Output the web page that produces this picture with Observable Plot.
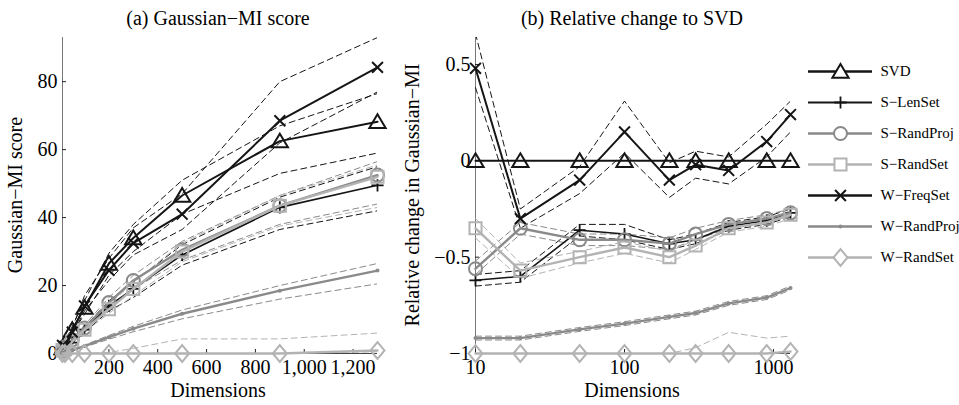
<!DOCTYPE html>
<html><head><meta charset="utf-8">
<script src="https://cdn.jsdelivr.net/npm/d3@7"></script>
<script src="https://cdn.jsdelivr.net/npm/@observablehq/plot@0.6"></script>
<style>
html,body{margin:0;padding:0;background:#fff;}
#wrap{position:relative;width:959px;height:405px;overflow:hidden;font-family:"Liberation Serif","Times New Roman",serif;}
#wrap svg{position:absolute;top:0;}
</style></head><body><div id="wrap"></div>
<script>
// ---------- data ----------
const dims = [10, 20, 50, 100, 200, 300, 500, 900, 1300];
const seriesNames = ["SVD", "S−LenSet", "S−RandProj", "S−RandSet", "W−FreqSet", "W−RandProj", "W−RandSet"];

// (a) Gaussian-MI score
const svdA     = [1.6, 3.0, 7.0, 13.5, 26.5, 34.0, 46.5, 62.5, 68.2];
const svdALo   = [1.3, 2.6, 6.0, 11.5, 23.0, 30.0, 41.0, 53.0, 59.0];
const svdAHi   = [1.9, 3.4, 8.0, 15.5, 29.5, 38.0, 51.0, 67.0, 76.5];
const lenA     = [0.6, 1.2, 3.2, 7.0, 14.0, 19.0, 29.0, 43.0, 49.5];
const lenALo   = [0.5, 1.0, 2.8, 6.2, 12.5, 16.5, 26.0, 36.5, 42.0];
const lenAHi   = [0.7, 1.4, 3.6, 7.8, 15.5, 21.0, 32.0, 46.0, 55.0];
const projA    = [0.7, 1.9, 4.0, 7.5, 15.0, 21.5, 30.5, 43.5, 52.5];
const projALo  = [0.6, 1.7, 3.6, 6.8, 13.5, 19.0, 27.5, 38.0, 44.0];
const projAHi  = [0.8, 2.1, 4.4, 8.3, 16.5, 23.0, 33.0, 46.5, 56.5];
const setA     = [1.0, 1.3, 3.5, 7.0, 13.0, 19.0, 30.0, 43.5, 52.0];
const setALo   = [0.9, 1.1, 3.1, 6.3, 11.8, 17.0, 27.0, 37.5, 43.0];
const setAHi   = [1.1, 1.5, 3.9, 7.8, 14.3, 21.0, 32.5, 46.5, 55.5];
const freqA    = [2.4, 2.1, 6.3, 14.0, 24.5, 32.5, 41.0, 68.5, 84.2];
const freqALo  = [1.9, 1.8, 5.5, 12.5, 21.5, 29.0, 36.5, 62.0, 77.0];
const freqAHi  = [3.0, 2.5, 7.5, 17.0, 28.0, 37.0, 47.0, 80.0, 93.0];
const wprojA   = [0.1, 0.25, 0.9, 2.2, 4.8, 7.3, 11.7, 18.5, 24.4];
const wprojALo = [0.1, 0.2, 0.8, 1.9, 4.2, 6.4, 10.2, 16.0, 20.5];
const wprojAHi = [0.1, 0.3, 1.0, 2.5, 5.3, 8.0, 12.8, 20.0, 26.5];
const wsetA    = [0, 0, 0, 0, 0, 0, 0, 0, 0.9];
const wsetALo  = [0, 0, 0, 0, 0, 0, 0, 0, 0.5];
const wsetAHi  = [0, 0, 0, 0, 0.3, 1.5, 4.3, 4.3, 6.0];

// (b) Relative change to SVD
const svdB     = [0, 0, 0, 0, 0, 0, 0, 0, 0];
const lenB     = [-0.62, -0.60, -0.36, -0.38, -0.43, -0.41, -0.34, -0.31, -0.27];
const lenBLo   = [-0.65, -0.63, -0.39, -0.41, -0.46, -0.43, -0.36, -0.33, -0.29];
const lenBHi   = [-0.59, -0.57, -0.33, -0.33, -0.41, -0.38, -0.32, -0.29, -0.25];
const projB    = [-0.56, -0.35, -0.41, -0.41, -0.43, -0.38, -0.33, -0.30, -0.27];
const projBLo  = [-0.59, -0.38, -0.44, -0.44, -0.46, -0.41, -0.35, -0.32, -0.29];
const projBHi  = [-0.52, -0.32, -0.38, -0.38, -0.40, -0.35, -0.31, -0.28, -0.25];
const setB     = [-0.35, -0.57, -0.50, -0.45, -0.50, -0.44, -0.35, -0.32, -0.28];
const setBLo   = [-0.40, -0.61, -0.53, -0.48, -0.53, -0.46, -0.37, -0.34, -0.30];
const setBHi   = [-0.30, -0.53, -0.47, -0.42, -0.47, -0.41, -0.33, -0.30, -0.26];
const freqB    = [0.48, -0.30, -0.10, 0.15, -0.10, -0.02, -0.05, 0.10, 0.24];
const freqBLo  = [0.38, -0.35, -0.17, 0.04, -0.19, -0.09, -0.12, 0.02, 0.15];
const freqBHi  = [0.66, -0.25, -0.03, 0.31, -0.01, 0.05, 0.02, 0.19, 0.31];
const wprojB   = [-0.92, -0.92, -0.875, -0.845, -0.81, -0.79, -0.74, -0.71, -0.66];
const wprojBLo = [-0.93, -0.93, -0.885, -0.855, -0.82, -0.80, -0.75, -0.72, -0.67];
const wprojBHi = [-0.91, -0.91, -0.865, -0.835, -0.80, -0.78, -0.73, -0.70, -0.65];
const wsetB    = [-1, -1, -1, -1, -1, -1, -1, -1, -0.99];
const wsetBLo  = [-1, -1, -1, -1, -1, -1, -1, -1, -0.99];
const wsetBHi  = [-1, -1, -1, -1, -1, -0.97, -0.89, -0.92, -0.91];

// ticks
const xTicksA = [200, 400, 600, 800, 1000, 1200];
const yTicksA = [0, 20, 40, 60, 80];
const xTicksB = [10, 100, 1000];
const yTicksB = [-1, -0.5, 0, 0.5];

// ---------- styles ----------
const BLACK = "#151515", GRAY = "#8a8a8a", LIGHT = "#b3b3b3";
const triSym = {draw(ctx, size) { const r = Math.sqrt(size / Math.PI);
  ctx.moveTo(0, -r * 1.15); ctx.lineTo(r * 1.25, r * 0.95); ctx.lineTo(-r * 1.25, r * 0.95); ctx.closePath(); }};
const diaSym = {draw(ctx, size) { const r = Math.sqrt(size / Math.PI);
  ctx.moveTo(0, -r * 1.2); ctx.lineTo(r, 0); ctx.lineTo(0, r * 1.2); ctx.lineTo(-r, 0); ctx.closePath(); }};
const styles = {
  "SVD":        {color: BLACK, width: 2,   symbol: triSym,   r: 6.5, mw: 2,   fill: "none"},
  "S−LenSet":   {color: BLACK, width: 1.6, symbol: "plus",   r: 4,   mw: 1.8, fill: "none"},
  "S−RandProj": {color: GRAY,  width: 2.4, symbol: "circle", r: 6.5, mw: 2,   fill: "none"},
  "S−RandSet":  {color: LIGHT, width: 2.4, symbol: "square", r: 6.8, mw: 2,   fill: "none"},
  "W−FreqSet":  {color: BLACK, width: 2,   symbol: "times",  r: 5,   mw: 2,   fill: "none"},
  "W−RandProj": {color: GRAY,  width: 2.4, symbol: "circle", r: 2,   mw: 0,   fill: GRAY},
  "W−RandSet":  {color: LIGHT, width: 2.4, symbol: diaSym,   r: 7,   mw: 2,   fill: "none"}
};

const specsA = [
  ["SVD", svdA, svdALo, svdAHi], ["S−LenSet", lenA, lenALo, lenAHi],
  ["S−RandProj", projA, projALo, projAHi], ["S−RandSet", setA, setALo, setAHi],
  ["W−FreqSet", freqA, freqALo, freqAHi], ["W−RandProj", wprojA, wprojALo, wprojAHi],
  ["W−RandSet", wsetA, wsetALo, wsetAHi]
];
const specsB = [
  ["SVD", svdB, null, null], ["S−LenSet", lenB, lenBLo, lenBHi],
  ["S−RandProj", projB, projBLo, projBHi], ["S−RandSet", setB, setBLo, setBHi],
  ["W−FreqSet", freqB, freqBLo, freqBHi], ["W−RandProj", wprojB, wprojBLo, wprojBHi],
  ["W−RandSet", wsetB, wsetBLo, wsetBHi]
];

const rows = vals => dims.map((d, i) => ({x: d, y: vals[i]}));
const FONT = "'Liberation Serif','Times New Roman',serif";

function panel(specs, o) {
  const frameW = o.width - o.marginLeft - o.marginRight;
  const frameH = 405 - 37 - 52;
  const marks = [
    Plot.ruleY([o.yDomain[0]], {stroke: "#444", strokeWidth: 1}),
    Plot.ruleX([o.xDomain[0]], {stroke: "#777", strokeWidth: 1}),
    Plot.tickX(o.xTicks, {x: d => d, insetTop: frameH - 4, stroke: "#222"}),
    Plot.tickY(o.yTicks, {y: d => d, insetRight: frameW - 4, stroke: "#222"})
  ];
  for (const [name, v, lo, hi] of specs) {
    const s = styles[name];
    for (const b of [lo, hi]) {
      if (!b) continue;
      marks.push(Plot.line(rows(b), {x: "x", y: "y", stroke: s.color, strokeWidth: 1, strokeDasharray: "6,4", clip: true}));
    }
  }
  for (const [name, v] of specs) {
    const s = styles[name];
    marks.push(Plot.line(rows(v), {x: "x", y: "y", stroke: s.color, strokeWidth: s.width}));
    marks.push(Plot.dot(rows(v), {x: "x", y: "y", symbol: s.symbol, r: s.r, stroke: s.fill === "none" ? s.color : "none", fill: s.fill, strokeWidth: s.mw}));
  }
  const svg = Plot.plot({
    width: o.width, height: 405,
    marginLeft: o.marginLeft, marginRight: o.marginRight, marginTop: 37, marginBottom: 52,
    style: {fontFamily: FONT, fontSize: "20px", background: "transparent", overflow: "visible", color: "#000"},
    x: {type: o.xType, domain: o.xDomain, ticks: o.xTicks, tickSize: 0, tickPadding: 6, tickFormat: o.xFormat, label: null},
    y: {domain: o.yDomain, ticks: o.yTicks, tickSize: 0, tickPadding: 5, tickFormat: o.yFormat, label: null},
    marks
  });
  svg.style.left = o.left + "px";
  return svg;
}

const wrap = document.getElementById("wrap");
const minusFmt = d => (d < 0 ? "−" + Math.abs(d) : String(d));

wrap.appendChild(panel(specsA, {
  left: 0, width: 400, marginLeft: 62, marginRight: 23,
  xType: "linear", xDomain: [10, 1300], yDomain: [0, 93],
  xTicks: xTicksA, yTicks: yTicksA, xFormat: d3.format(","), yFormat: d => String(d)
}));
wrap.appendChild(panel(specsB, {
  left: 400, width: 410, marginLeft: 75, marginRight: 20,
  xType: "log", xDomain: [10, 1300], yDomain: [-1, 0.64],
  xTicks: xTicksB, yTicks: yTicksB, xFormat: d => String(d), yFormat: minusFmt
}));

// legend
const legMarks = [];
for (const name of seriesNames) {
  const s = styles[name];
  legMarks.push(Plot.ruleY([name], {y: d => d, x1: () => 0, x2: () => 1, stroke: s.color, strokeWidth: s.width + 0.3}));
  legMarks.push(Plot.dot([name], {x: () => 0.5, y: d => d, symbol: s.symbol, r: s.r, stroke: s.fill === "none" ? s.color : "none", fill: s.fill === "none" ? "white" : s.fill, strokeWidth: s.mw}));
}
legMarks.push(Plot.text(seriesNames, {x: () => 1, y: d => d, text: d => d, dx: 8, textAnchor: "start", fontSize: 15, fill: "#000"}));
const leg = Plot.plot({
  width: 159, height: 300, marginLeft: 8, marginRight: 87, marginTop: 0, marginBottom: 0,
  style: {fontFamily: FONT, fontSize: "15px", background: "transparent", overflow: "visible"},
  x: {domain: [0, 1], axis: null},
  y: {type: "point", domain: seriesNames, range: [54, 273], axis: null},
  marks: legMarks
});
leg.style.left = "800px";
wrap.appendChild(leg);

// titles & axis labels
const ov = d3.select(wrap).append("svg").attr("width", 959).attr("height", 405)
  .style("left", "0px").style("pointer-events", "none")
  .style("font-family", FONT).style("font-size", "20px");
const lbl = [
  {t: "(a) Gaussian−MI score", x: 218, y: 25},
  {t: "(b) Relative change to SVD", x: 632, y: 25},
  {t: "Dimensions", x: 218, y: 397},
  {t: "Dimensions", x: 632, y: 397}
];
ov.selectAll("text.l").data(lbl).join("text").attr("class", "l")
  .attr("x", d => d.x).attr("y", d => d.y).attr("text-anchor", "middle").text(d => d.t);
ov.append("text").attr("transform", "translate(22,195) rotate(-90)").attr("text-anchor", "middle").text("Gaussian−MI score");
ov.append("text").attr("transform", "translate(419,195) rotate(-90)").attr("text-anchor", "middle").text("Relative change in Gaussian−MI");
</script></body></html>
